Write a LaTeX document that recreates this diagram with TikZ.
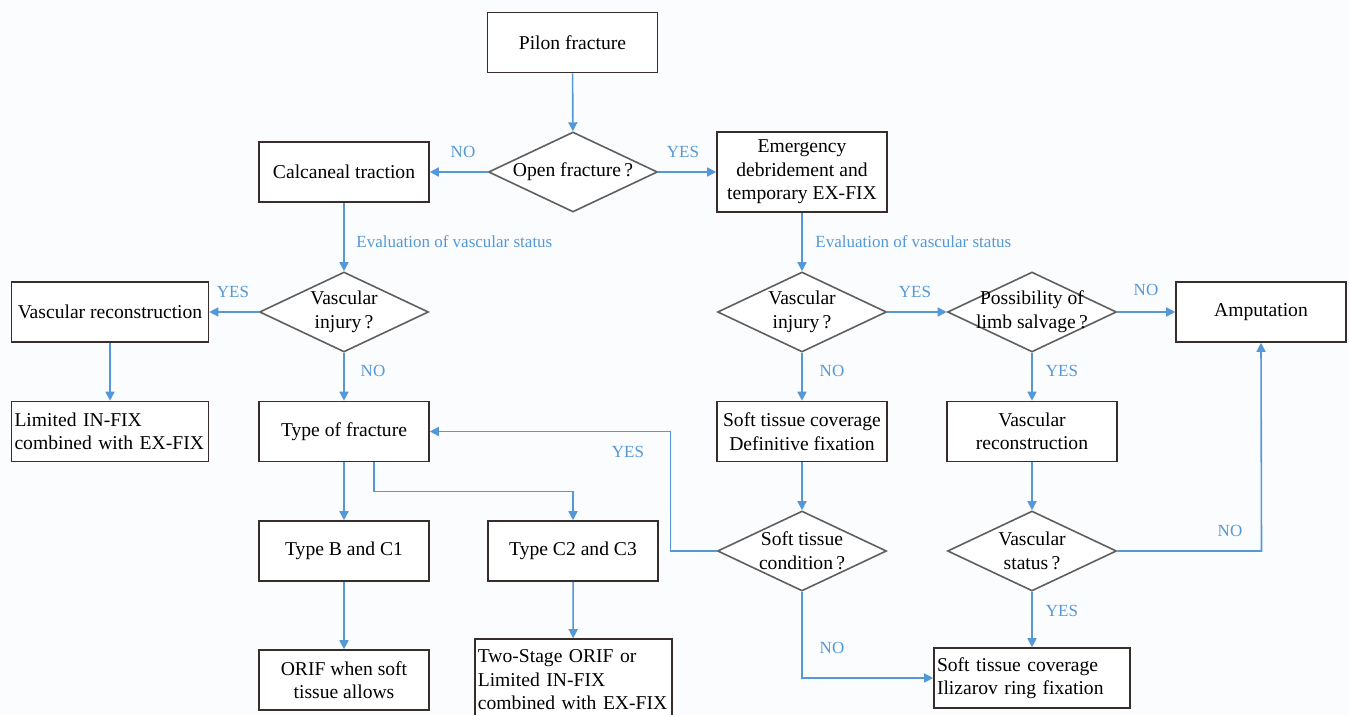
\documentclass[tikz,border=0pt]{standalone}
\usepackage{fontspec}
\setmainfont{Liberation Serif}
\usetikzlibrary{shapes.geometric,arrows.meta}
\definecolor{flow}{RGB}{85,152,215}
\definecolor{bg}{RGB}{251,252,254}
\definecolor{boxc}{RGB}{55,45,45}
\definecolor{diac}{RGB}{95,95,95}
\begin{document}
\begin{tikzpicture}[x=0.5pt,y=-0.5pt,
  box/.style={rectangle, draw=boxc, line width=0.8pt, fill=white, inner sep=1pt, align=center,
    minimum width=85pt, minimum height=30pt, font=\fontsize{9.8}{11.7}\selectfont},
  lbox/.style={box, align=left, text width=95.5pt, inner xsep=1.5pt},
  dia/.style={diamond, draw=diac, line width=0.8pt, fill=white, minimum width=84.5pt, minimum height=40pt, inner sep=0pt},
  dtext/.style={align=center, inner sep=0pt, font=\fontsize{9.8}{12}\selectfont},
  conn/.style={draw=flow, line width=0.8pt, -{Triangle[length=4.5pt,width=4.5pt]}},
  lbl/.style={text=flow, inner sep=0pt, font=\fontsize{8.5}{10}\selectfont}]
\useasboundingbox (0,0) rectangle (1350,715);
\fill[bg] (0,0) rectangle (1350,715);

% boxes
\node[box] (pilon) at (572.5,42.5) {Pilon fracture};
\node[box] (calc) at (344,172) {Calcaneal traction};
\node[box, minimum height=40pt] (emerg) at (802,172) {Emergency\\debridement and\\temporary EX-FIX};
\node[box, minimum width=98.5pt] (vrecL) at (110,312) {Vascular reconstruction};
\node[lbox] (limited) at (110,431.5) {Limited IN-FIX\\combined with EX-FIX};
\node[box] (tof) at (344,431.5) {Type of fracture};
\node[box] (typeB) at (344,551) {Type B and C1};
\node[box] (typeC) at (573,551) {Type C2 and C3};
\node[box] (orif) at (344,680) {ORIF when soft\\tissue allows};
\node[lbox, minimum height=41pt] (two) at (573.3,680) {Two-Stage ORIF or\\Limited IN-FIX\\combined with EX-FIX};
\node[box] (amp) at (1261,312) {Amputation};
\node[box] (softdef) at (802,431.5) {Soft tissue coverage\\Definitive fixation};
\node[box] (vrecR) at (1032,431.5) {Vascular\\reconstruction};
\node[lbox, text width=95pt] (iliz) at (1032,678) {Soft tissue coverage\\Ilizarov ring fixation};

% diamonds
\node[dia] (open) at (573,172) {};
\node[dtext] (openT) at (open) {Open fracture\,?};
\node[dia] (vinjL) at (344,312) {};
\node[dtext] (vinjLT) at (vinjL) {Vascular\\injury\,?};
\node[dia] (vinjR) at (802,312) {};
\node[dtext] (vinjRT) at (vinjR) {Vascular\\injury\,?};
\node[dia] (poss) at (1032,312) {};
\node[dtext] (possT) at (poss) {Possibility of\\limb salvage\,?};
\node[dia] (stc) at (802,551) {};
\node[dtext] (stcT) at (stc) {Soft tissue\\condition\,?};
\node[dia] (vstat) at (1032,551) {};
\node[dtext] (vstatT) at (vstat) {Vascular\\status\,?};

% corner coordinates
\coordinate (br1) at (374,491.7);
\coordinate (br2) at (573,491.7);
\coordinate (ret) at (670.5,551);
\coordinate (ret2) at (670.5,431.5);
\coordinate (vs1) at (1261.5,551);
\coordinate (st1) at (802,678);

% connectors
\draw[conn] (pilon) -- (open);
\draw[conn] (open.west) -- (calc.east);
\draw[conn] (open.east) -- (emerg.west);
\draw[conn] (calc) -- (vinjL.north);
\draw[conn] (emerg) -- (vinjR.north);
\draw[conn] (vinjL.west) -- (vrecL.east);
\draw[conn] (vrecL) -- (limited);
\draw[conn] (vinjL.south) -- (tof);
\draw[conn] (tof) -- (typeB);
\draw[conn] (tof.south -| br1) -- (br1) -- (br2) -- (typeC.north);
\draw[conn] (typeB) -- (orif);
\draw[conn] (typeC) -- (two);
\draw[conn] (vinjR.east) -- (poss.west);
\draw[conn] (poss.east) -- (amp.west);
\draw[conn] (vinjR.south) -- (softdef);
\draw[conn] (poss.south) -- (vrecR);
\draw[conn] (softdef) -- (stc.north);
\draw[conn] (vrecR) -- (vstat.north);
\draw[conn] (stc.west) -- (ret) -- (ret2) -- (tof.east);
\draw[conn] (vstat.east) -- (vs1) -- (amp.south);
\draw[conn] (vstat.south) -- (iliz);
\draw[conn] (stc.south) -- (st1) -- (iliz.west);

% labels
\node[lbl] (l1) at (463,152) {NO};
\node[lbl] (l2) at (683,152) {YES};
\node[lbl, anchor=west] (l3) at (356,242) {Evaluation of vascular status};
\node[lbl, anchor=west] (l4) at (815,242) {Evaluation of vascular status};
\node[lbl] (l5) at (233,292) {YES};
\node[lbl] (l6) at (373,371) {NO};
\node[lbl] (l7) at (915,292) {YES};
\node[lbl] (l8) at (1146,290) {NO};
\node[lbl] (l9) at (832,371) {NO};
\node[lbl] (l10) at (1062,371) {YES};
\node[lbl] (l11) at (628,452) {YES};
\node[lbl] (l12) at (1230,531) {NO};
\node[lbl] (l13) at (1062,611) {YES};
\node[lbl] (l14) at (832,648) {NO};
\end{tikzpicture}
\end{document}
